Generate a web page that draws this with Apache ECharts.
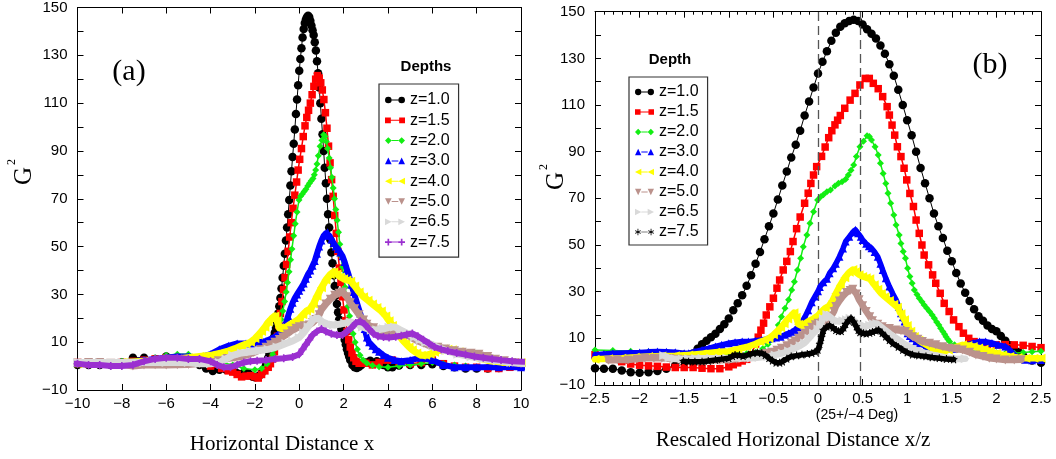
<!DOCTYPE html>
<html><head><meta charset="utf-8">
<script src="https://cdn.jsdelivr.net/npm/echarts@6/dist/echarts.min.js"></script>
<style>html,body{margin:0;padding:0;background:#fff}#c{width:1056px;height:459px}</style>
</head><body><div id="c"></div>
<script>
// ---------- labels / ticks ----------
const depthLabels = ['z=1.0','z=1.5','z=2.0','z=3.0','z=4.0','z=5.0','z=6.5','z=7.5'];
const yLabelValues = [-10,10,30,50,70,90,110,130,150];
const xLabelsA = [-10,-8,-6,-4,-2,0,2,4,6,8,10];
const xLabelsB = [-2.5,-2,-1.5,-1,-0.5,0,0.5,1,1.5,2,2.5];
const degLines = [0, 0.47];

// ---------- data ----------
// z = 1.0 (x/z = x, shared by both panels)
const z10 = [[-11.3,0.3],[-10.5,0.5],[-10,0.5],[-9.5,0.5],[-9,0.5],[-8.5,0.5],[-8,1.5],[-7.5,3.5],[-7,3.5],[-6.5,3],[-6,4],[-5.5,3.5],[-5,2.5],[-4.5,0.5],[-4.2,-1],[-3.9,-2],[-3.6,-1.5],[-3.3,-1.5],[-3,-2],[-2.8,-3],[-2.6,-3.5],[-2.5,-2.8],[-2.4,-3],[-2.3,-3],[-2.2,-3.8],[-2.1,-4.5],[-2,-4.7],[-1.9,-4.5],[-1.8,-4],[-1.7,-3],[-1.6,-1.5],[-1.5,0.5],[-1.45,2],[-1.4,3.5],[-1.35,5.5],[-1.3,7.5],[-1.25,9],[-1.2,10.5],[-1.15,12],[-1.1,14],[-1.05,16],[-1,18.5],[-0.95,22],[-0.9,25],[-0.85,28.5],[-0.8,32.5],[-0.75,37],[-0.7,42],[-0.65,47],[-0.6,52.5],[-0.55,58],[-0.5,63.5],[-0.45,69.5],[-0.4,75.5],[-0.35,81.5],[-0.3,87.5],[-0.25,93],[-0.2,99],[-0.15,105.5],[-0.1,111.5],[-0.05,117.5],[0,123.5],[0.05,128.5],[0.1,133],[0.15,137.5],[0.2,141],[0.25,143.5],[0.3,145],[0.35,146],[0.4,146.5],[0.45,146],[0.5,144.5],[0.55,142.5],[0.6,140.5],[0.65,138.5],[0.7,135.5],[0.75,132],[0.8,127.5],[0.85,122.5],[0.9,116.5],[0.95,110],[1,103.5],[1.05,97],[1.1,90],[1.15,83],[1.2,76.5],[1.25,70],[1.3,63.5],[1.35,58],[1.4,53],[1.45,47.5],[1.5,43],[1.55,38],[1.6,33.5],[1.65,29.5],[1.7,26],[1.75,22.5],[1.8,19.5],[1.85,17.5],[1.9,15.5],[1.95,14],[2,13],[2.05,11],[2.1,9],[2.15,7],[2.2,5.5],[2.25,4],[2.3,2.5],[2.4,0.5],[2.5,-0.5],[2.6,-0.8],[2.7,-0.3],[2.8,0.5],[3,1.5],[3.2,2.2],[3.5,2],[3.8,0.5],[4,-0.5],[4.2,-0.5],[4.5,0.3],[5,0.5],[5.5,0.5],[6,0.8],[6.5,0],[7,-0.5],[7.5,-1],[8,-1],[8.5,-1],[9,-0.8],[9.5,-0.3],[10,0],[10.5,0],[11.3,0.3]];

// panel (a): horizontal distance x
const a15 = [[-11.3,2],[-10.5,1.5],[-10,1.5],[-9.5,1],[-9,1],[-8.5,1],[-8,1.5],[-7.5,2],[-7,2.5],[-6.5,3],[-6,3.5],[-5.5,3.5],[-5,3],[-4.5,1.5],[-4,0],[-3.5,-1],[-3.2,-2],[-3,-2.5],[-2.8,-3.5],[-2.6,-4.5],[-2.4,-4.2],[-2.2,-4],[-2,-4.5],[-1.85,-5],[-1.7,-3.5],[-1.55,-2],[-1.4,-0.5],[-1.3,1],[-1.2,3],[-1.12,6],[-1.05,9],[-0.98,12.5],[-0.92,17],[-0.85,22],[-0.78,27],[-0.71,32],[-0.64,37],[-0.57,42.5],[-0.5,48],[-0.43,54],[-0.36,60],[-0.28,66],[-0.2,71.5],[-0.12,77],[-0.05,82],[0.02,86.5],[0.1,91],[0.18,96],[0.26,100.5],[0.34,104],[0.42,107],[0.5,110],[0.58,113.5],[0.66,117],[0.74,120],[0.82,121.5],[0.9,120.5],[0.97,118.5],[1.04,115.5],[1.11,111.5],[1.18,106],[1.25,99.5],[1.32,92],[1.39,85],[1.46,78],[1.53,71],[1.6,63],[1.67,55.5],[1.74,48],[1.81,41],[1.88,35],[1.95,29],[2.02,23.5],[2.09,19],[2.16,14.5],[2.23,11],[2.3,8],[2.38,5.5],[2.46,3.5],[2.56,2],[2.7,1.2],[2.85,1.5],[3,1.2],[3.3,0.5],[3.6,1.5],[3.9,2.5],[4.2,2.5],[4.5,1.5],[5,1],[5.5,1.5],[6,2.5],[6.5,1],[7,0],[7.5,-0.5],[8,-0.5],[8.5,-1],[9,-1],[9.5,-0.5],[10,0],[11.3,0]];
const a20 = [[-11.3,1],[-10.5,1.5],[-10,1.5],[-9,1.5],[-8,2],[-7,2.5],[-6.5,3.5],[-6,4.5],[-5.5,5],[-5,5],[-4.5,4],[-4,2.5],[-3.5,1.5],[-3,0.5],[-2.5,-1],[-2,-1.5],[-1.7,-1],[-1.45,1],[-1.3,3],[-1.2,5],[-1.12,7],[-1.04,9.5],[-0.96,13],[-0.89,16.5],[-0.82,19.5],[-0.74,23],[-0.66,27],[-0.59,31],[-0.53,35],[-0.46,39.5],[-0.39,44.5],[-0.33,49],[-0.25,54.5],[-0.18,59.5],[-0.1,64.5],[-0.01,69.5],[0.06,71],[0.14,72],[0.22,73],[0.3,74],[0.38,75.3],[0.46,76.5],[0.54,77.5],[0.62,78.5],[0.68,80],[0.74,82],[0.8,84.5],[0.86,88],[0.94,92],[1.02,94.5],[1.1,96.8],[1.16,96],[1.22,94],[1.28,91],[1.35,87],[1.41,83],[1.47,79],[1.53,74.5],[1.59,70],[1.65,65.5],[1.71,61],[1.77,56],[1.83,51],[1.89,46],[1.95,41.5],[2.01,37],[2.07,33],[2.13,29],[2.2,25],[2.27,21],[2.35,17],[2.43,13.5],[2.52,10],[2.62,7],[2.74,4.5],[2.88,2.5],[3.05,1.2],[3.3,0.3],[3.6,-0.3],[4,-0.5],[4.5,0],[5,0.5],[5.5,1],[6,1.5],[6.5,1],[7,0.5],[7.5,0],[8,-0.5],[9,-0.5],[10,0],[11.3,0.5]];
const a30 = [[-11.3,1],[-10.5,1.5],[-10,1.5],[-9,1],[-8,1.5],[-7,2.5],[-6,3.5],[-5.5,4],[-5,4],[-4.5,3.5],[-4,5],[-3.6,7],[-3.2,8.5],[-2.8,9.5],[-2.4,9.5],[-2.1,9.5],[-1.8,10],[-1.5,10.5],[-1.25,11.5],[-1.05,12.5],[-0.9,13.5],[-0.75,15.5],[-0.6,18],[-0.5,21],[-0.4,24],[-0.3,26.5],[-0.2,28.5],[-0.1,30],[0,31.5],[0.1,33],[0.2,34.5],[0.3,36.5],[0.4,38.5],[0.5,40],[0.6,42],[0.7,44],[0.8,47],[0.9,50],[1,52.5],[1.1,54.5],[1.2,55.5],[1.28,56],[1.36,54.5],[1.45,53],[1.55,51.5],[1.65,50],[1.75,49],[1.85,47.5],[1.95,46],[2.05,43.5],[2.15,40.5],[2.25,37.5],[2.35,34],[2.45,31],[2.55,28],[2.65,25],[2.75,22],[2.85,19],[2.95,15.5],[3.05,12],[3.15,10],[3.3,8.5],[3.45,7],[3.6,6],[3.8,4.5],[4,3.5],[4.3,2.5],[4.6,2],[5,2.5],[5.5,3.5],[6,2.5],[6.5,0.5],[7,-0.5],[7.5,-0.5],[8,-0.5],[9,-0.5],[10,-0.5],[11.3,0]];
const a40 = [[-11.3,1],[-10.5,1],[-10,1],[-9,1],[-8,1.5],[-7,2],[-6,2.5],[-5.5,3],[-5,3.5],[-4.5,4],[-4,4.5],[-3.5,5.5],[-3.2,6.3],[-2.9,7.3],[-2.6,8.5],[-2.4,9.2],[-2.2,10],[-2,11.5],[-1.85,13],[-1.7,14.5],[-1.55,16.3],[-1.4,18.3],[-1.25,19.8],[-1.1,21],[-1,19],[-0.9,16],[-0.75,15.5],[-0.6,16.3],[-0.4,17.5],[-0.2,18.5],[0,19.8],[0.16,21.5],[0.32,23],[0.48,23.8],[0.64,26],[0.8,29.2],[1,32.8],[1.2,36],[1.4,38.3],[1.56,39.5],[1.7,38.5],[1.85,37.3],[2,36.5],[2.15,36],[2.32,35.5],[2.5,33.5],[2.7,31],[2.9,29],[3.1,27.5],[3.3,26],[3.5,24.5],[3.7,23],[3.9,21],[4.05,19],[4.2,17],[4.35,15],[4.5,13],[4.65,11],[4.8,9.5],[4.95,8],[5.1,6.8],[5.3,5.5],[5.5,4.5],[5.7,4.5],[5.9,5],[6.1,5.8],[6.3,6.6],[6.5,7.2],[6.7,7],[6.9,6.8],[7.2,6],[7.5,5.2],[7.8,4.4],[8,3.6],[8.3,2.9],[8.6,2.2],[9,1.8],[9.3,1.5],[9.7,1.5],[10,1.5],[11.3,1]];
const a50 = [[-11.3,0.6],[-10.5,0.8],[-10,1.2],[-9.5,1.5],[-9,1.5],[-8.5,1.2],[-8,0.8],[-7.5,0],[-7,0.5],[-6.5,0.6],[-6,0.5],[-5.5,0.6],[-5,0.7],[-4.5,1.1],[-4,1.5],[-3.65,2.2],[-3.25,3.2],[-2.9,3.6],[-2.6,4],[-2.3,4.9],[-2.05,5.7],[-1.75,6.8],[-1.5,7.9],[-1.3,8.9],[-1.1,10],[-0.9,11.1],[-0.75,12.2],[-0.55,13.4],[-0.35,14.8],[-0.15,15.8],[0,16.5],[0.22,16.9],[0.45,17.2],[0.6,18.2],[0.75,19.5],[0.9,21.5],[1,23.6],[1.2,26],[1.4,28],[1.6,29.6],[1.8,30.5],[1.95,31],[2.15,29],[2.3,26.5],[2.5,24],[2.7,21.5],[2.9,19.3],[3.05,17.5],[3.35,16],[3.6,15],[4,14.2],[4.35,13.6],[4.65,13.2],[4.9,12.9],[5.1,11.8],[5.3,10.7],[5.6,9.6],[5.85,8.6],[6.25,7.9],[6.6,7.2],[7,6.4],[7.35,5.8],[7.75,5.4],[8.1,5],[8.5,4],[8.85,2.9],[9.25,2.2],[9.6,1.5],[10,1.1],[10.5,0.7],[11,0.7],[11.4,0.8]];
const a65 = [[-11.3,2],[-10.5,1.5],[-10,1.5],[-9,1.5],[-8,1.5],[-7,1.5],[-6,1.5],[-5,1.5],[-4.5,1],[-4,1],[-3.6,1.5],[-3.3,3],[-3,4.5],[-2.6,5.5],[-2.2,6],[-1.8,6.5],[-1.4,7],[-1,8],[-0.6,9.5],[-0.3,10.5],[0,12],[0.2,14],[0.4,16.5],[0.65,19.5],[0.85,20],[1.05,18.5],[1.3,17.5],[1.55,17.2],[1.8,17.5],[2.05,18],[2.3,18.5],[2.6,17.5],[2.85,16.4],[3.25,15],[3.5,15.2],[3.8,15.6],[4.05,16.2],[4.3,16.4],[4.55,15.2],[4.9,13.6],[5.2,12.2],[5.45,11],[5.7,10],[6,9],[6.2,8],[6.6,6.5],[7.15,5],[7.75,3.9],[8.3,3],[8.95,2.2],[9.55,1.5],[10.15,1.1],[10.7,1.2],[11.3,1.2]];
const a75 = [[-11.3,1.5],[-10.5,1],[-10,1],[-9.5,0.5],[-9,0.5],[-8.5,0],[-8,0],[-7.5,0.5],[-7,2],[-6.5,3],[-6,3.5],[-5.5,3.5],[-5,3],[-4.5,3],[-4,2],[-3.7,0.5],[-3.4,-0.5],[-3.1,-0.5],[-2.8,0.5],[-2.5,1.5],[-2.2,2],[-1.9,2.2],[-1.5,2.5],[-1.1,3],[-0.7,3.3],[-0.3,3.8],[0,5],[0.15,7],[0.3,9],[0.45,11],[0.6,13],[0.8,14.5],[1,15.5],[1.2,14.5],[1.45,13.5],[1.7,13],[1.95,13],[2.15,14.5],[2.35,16],[2.55,18],[2.75,18.8],[2.95,17.5],[3.15,15.5],[3.35,13.5],[3.55,12.5],[3.8,12.2],[4.05,12],[4.35,12.3],[4.6,12.7],[4.85,13.2],[5.1,13.6],[5.35,12.5],[5.6,11],[5.85,9.5],[6.1,8],[6.4,7],[6.7,6.3],[7.1,5.5],[7.5,4.8],[7.9,4],[8.3,3.5],[8.7,3],[9.1,2.5],[9.6,2],[10.1,1.8],[10.6,1.6],[11.3,1.2]];

// panel (b): rescaled distance x/z
const b15 = [[-2.5,3],[-2.4,2],[-2.3,1],[-2.2,0],[-2.1,-1],[-2,-1.5],[-1.9,-1.8],[-1.8,-2],[-1.7,-2.3],[-1.6,-2.5],[-1.5,-2.5],[-1.4,-2.5],[-1.3,-2.8],[-1.2,-3],[-1.1,-3],[-1,-2.2],[-0.95,-1.3],[-0.9,-0.5],[-0.85,0.3],[-0.8,1],[-0.75,3],[-0.7,7.5],[-0.67,10.5],[-0.64,13.5],[-0.61,16.5],[-0.58,20],[-0.54,23.5],[-0.5,27.2],[-0.46,31.5],[-0.43,35],[-0.39,39.3],[-0.35,43],[-0.31,47.2],[-0.28,51.5],[-0.24,57],[-0.2,62],[-0.15,67.9],[-0.11,72.2],[-0.08,76.4],[-0.05,80],[-0.015,83.6],[0.04,88],[0.08,92],[0.12,96],[0.155,99],[0.19,101.5],[0.22,103.5],[0.25,105.5],[0.3,108.6],[0.36,112.1],[0.415,115],[0.47,118.6],[0.53,121.4],[0.575,121.4],[0.62,119.3],[0.675,117],[0.725,113.6],[0.775,109.3],[0.8,105.7],[0.83,101.4],[0.86,97.1],[0.89,92.1],[0.93,87.9],[0.965,82.9],[0.995,77.9],[1.03,72.1],[1.07,66.5],[1.1,60.7],[1.135,55],[1.165,50],[1.19,45.7],[1.24,41.5],[1.285,37.2],[1.32,33.6],[1.37,29.3],[1.415,25],[1.47,21.5],[1.52,17.9],[1.58,15],[1.63,12.2],[1.69,10],[1.75,8.6],[1.81,7.9],[1.9,7.5],[2,7.2],[2.1,7.3],[2.2,7.2],[2.3,7],[2.4,6.5],[2.5,6]];
const b20 = [[-2.5,5],[-2.3,4.8],[-2.1,4.5],[-1.9,4.2],[-1.7,4],[-1.5,3.5],[-1.3,4],[-1.1,3.5],[-0.9,3],[-0.8,3.5],[-0.7,4],[-0.62,5.5],[-0.56,7.5],[-0.52,9.5],[-0.48,12.2],[-0.445,15.7],[-0.41,19.3],[-0.37,22.9],[-0.33,26.5],[-0.295,30.7],[-0.265,34.3],[-0.23,39.3],[-0.195,44.3],[-0.165,49.3],[-0.125,54.3],[-0.09,59.3],[-0.05,64.3],[-0.005,69.3],[0.03,70.7],[0.06,71.5],[0.1,72.8],[0.14,73.6],[0.19,75.3],[0.23,76.5],[0.27,77.1],[0.31,78.2],[0.34,80],[0.37,82],[0.4,84.3],[0.43,87.9],[0.47,92.1],[0.51,94.5],[0.55,96.8],[0.575,96.5],[0.6,95],[0.64,92.1],[0.675,88.6],[0.7,85],[0.73,80.7],[0.76,76.4],[0.785,72.2],[0.815,67.9],[0.85,62.9],[0.875,58.6],[0.91,54.3],[0.93,50.7],[0.955,47.2],[0.98,44.3],[1.005,40],[1.03,36.5],[1.055,33.6],[1.08,30.7],[1.11,28.8],[1.135,27.2],[1.165,25.7],[1.19,24.3],[1.22,22.9],[1.25,21.5],[1.28,20],[1.305,18.6],[1.33,17],[1.355,15.7],[1.375,14.3],[1.4,12.9],[1.42,11.8],[1.435,10.7],[1.455,9.6],[1.475,8.6],[1.53,7.2],[1.6,5.8],[1.7,4.8],[1.8,4.3],[1.9,4],[2,3.8],[2.1,3.6],[2.2,3.6],[2.3,3.9],[2.4,4.2],[2.5,4.5]];
const b30 = [[-2.5,3],[-2.4,3.3],[-2.3,3.6],[-2.1,3.8],[-2,3.9],[-1.9,4.2],[-1.8,4.4],[-1.7,4.2],[-1.6,4],[-1.5,3.6],[-1.45,3.6],[-1.38,4.3],[-1.3,5],[-1.22,5.8],[-1.15,6.5],[-1.08,7.2],[-1,7.9],[-0.93,8.3],[-0.85,8.6],[-0.78,8.6],[-0.7,9],[-0.63,9.3],[-0.57,9.7],[-0.52,10],[-0.47,10.4],[-0.42,10.7],[-0.37,11.5],[-0.33,12.2],[-0.29,12.8],[-0.26,13.6],[-0.22,14.8],[-0.18,17],[-0.145,19.3],[-0.11,22],[-0.07,25.5],[-0.035,27.9],[0,30.2],[0.02,32],[0.06,34],[0.1,35.5],[0.13,37.9],[0.17,40],[0.2,42],[0.24,45],[0.28,48.5],[0.31,51.5],[0.35,53.5],[0.39,55.5],[0.42,56.5],[0.45,55],[0.48,53.5],[0.5,52.2],[0.54,50.5],[0.57,49.5],[0.6,48.6],[0.635,47],[0.67,45],[0.7,42],[0.725,39.3],[0.76,35.8],[0.8,32.2],[0.84,29],[0.875,26.5],[0.905,23.5],[0.93,20.7],[0.95,19],[0.97,17.2],[0.99,14.5],[1.005,12.2],[1.03,11],[1.06,10],[1.1,8.8],[1.14,7.9],[1.21,6.5],[1.29,6.3],[1.37,5.8],[1.45,5.5],[1.53,5.5],[1.6,6.2],[1.67,7.2],[1.74,8],[1.81,8.6],[1.88,8.6],[1.95,8],[2.02,7.2],[2.1,6.5],[2.15,5],[2.2,3],[2.25,1.5],[2.32,0.8],[2.4,0.6],[2.5,0.7]];
const b40 = [[-2.5,1],[-2.35,1.3],[-2.2,1.5],[-2.05,1.9],[-1.9,2.2],[-1.75,2.4],[-1.6,2.5],[-1.45,2.9],[-1.3,3.4],[-1.15,4],[-1,4.5],[-0.9,5.4],[-0.8,6.3],[-0.72,7.3],[-0.65,8.5],[-0.6,9.2],[-0.55,10],[-0.5,11.5],[-0.46,13],[-0.42,14.5],[-0.38,16.3],[-0.34,18.3],[-0.3,19.8],[-0.27,21],[-0.245,19],[-0.22,16],[-0.19,15.5],[-0.15,16.3],[-0.1,17.5],[-0.05,18.5],[0,19.8],[0.04,21.5],[0.08,23],[0.12,23.8],[0.16,26],[0.2,29.2],[0.25,32.8],[0.3,36],[0.35,38.3],[0.39,39.5],[0.42,38.5],[0.46,37.3],[0.5,36.5],[0.54,36],[0.58,35.5],[0.63,33],[0.67,31],[0.71,29.2],[0.75,27.8],[0.8,26.2],[0.85,24.6],[0.89,23.3],[0.93,20.5],[0.97,18],[1,15.5],[1.04,13],[1.08,10.8],[1.13,9.2],[1.18,7.9],[1.23,6.8],[1.28,5.7],[1.34,4.9],[1.4,4.3],[1.46,5],[1.52,5.8],[1.57,6.6],[1.62,7.2],[1.68,6.9],[1.74,6.5],[1.8,5.9],[1.86,5.3],[1.93,4.4],[2,3.6],[2.07,2.9],[2.15,2.2],[2.24,1.8],[2.33,1.5],[2.42,1.5],[2.5,1.5]];
const b50 = [[-2.35,0.6],[-2.25,0.7],[-2.13,0.7],[-2.03,1.1],[-1.94,1.5],[-1.84,1.5],[-1.75,1.5],[-1.66,1.2],[-1.57,1],[-1.47,0.8],[-1.38,0.7],[-1.28,0.6],[-1.19,0.5],[-1.1,0.6],[-1,0.7],[-0.91,1.1],[-0.82,1.5],[-0.73,2.2],[-0.65,3.2],[-0.58,3.6],[-0.52,4],[-0.46,4.9],[-0.41,5.7],[-0.35,6.8],[-0.3,7.9],[-0.26,8.9],[-0.22,10],[-0.18,11.1],[-0.15,12.2],[-0.11,13.4],[-0.07,14.8],[-0.03,15.8],[0,16.5],[0.045,16.9],[0.09,17.2],[0.12,18.2],[0.15,19.5],[0.18,21.5],[0.2,23.6],[0.24,26],[0.28,28],[0.32,29.6],[0.36,30.5],[0.39,31],[0.43,29],[0.46,26.5],[0.5,24],[0.54,21.5],[0.58,19.3],[0.61,17.5],[0.67,16],[0.72,15],[0.8,14.2],[0.87,13.6],[0.93,13.2],[0.98,12.9],[1.02,11.8],[1.06,10.7],[1.12,9.6],[1.17,8.6],[1.25,7.9],[1.32,7.2],[1.4,6.4],[1.47,5.8],[1.55,5.4],[1.62,5],[1.7,4],[1.77,2.9],[1.85,2.2],[1.92,1.5],[2,1.1],[2.1,0.7],[2.2,0.7],[2.28,0.8]];
const b65 = [[-1.73,2.6],[-1.67,1.6],[-1.6,1.2],[-1.52,1.1],[-1.45,1.2],[-1.37,1.4],[-1.3,1.5],[-1.2,1.5],[-1.1,1.5],[-1.02,1.5],[-0.93,1.5],[-0.84,1.5],[-0.75,1.5],[-0.66,1.8],[-0.56,2.2],[-0.48,2.9],[-0.4,3.6],[-0.33,4.6],[-0.26,5.7],[-0.2,6.8],[-0.15,8],[-0.1,10],[-0.05,12.2],[0,14],[0.03,16],[0.06,18.5],[0.1,20.2],[0.14,19],[0.18,17.8],[0.22,17.3],[0.28,17.5],[0.32,18],[0.36,18.6],[0.4,17.6],[0.44,16.4],[0.5,15],[0.54,15.2],[0.58,15.6],[0.62,16.2],[0.66,16.4],[0.7,15.2],[0.75,13.6],[0.8,12.2],[0.84,11],[0.88,10],[0.92,9],[0.95,8],[1.02,6.5],[1.1,5],[1.19,3.9],[1.28,3],[1.38,2.2],[1.47,1.5],[1.56,1.1],[1.65,1.2]];
const b75 = [[-1.51,0.2],[-1.45,0],[-1.38,0],[-1.3,0],[-1.23,0.3],[-1.15,0.7],[-1.08,1.1],[-1,1.5],[-0.96,2.3],[-0.93,2.9],[-0.88,2.7],[-0.84,2.3],[-0.78,3],[-0.73,3.6],[-0.68,3.8],[-0.63,3.6],[-0.59,2.8],[-0.55,1.5],[-0.51,0.4],[-0.47,-0.5],[-0.43,-0.5],[-0.4,0],[-0.35,1.2],[-0.3,2.2],[-0.24,2.6],[-0.18,3],[-0.12,3.3],[-0.07,3.6],[-0.03,4.2],[0,5],[0.02,7.5],[0.04,10.5],[0.06,13.5],[0.1,15],[0.13,15.5],[0.17,14.5],[0.2,13.5],[0.23,13],[0.26,13],[0.29,14.5],[0.31,16],[0.34,17.5],[0.37,18.6],[0.4,17],[0.43,15],[0.45,13.5],[0.47,12.5],[0.51,12.2],[0.54,12],[0.58,12.3],[0.61,12.7],[0.65,13.2],[0.68,13.6],[0.72,12.2],[0.76,10.7],[0.8,9.2],[0.84,7.8],[0.9,6.3],[0.95,5],[1,3.9],[1.06,3],[1.13,2.6],[1.21,2.2],[1.28,1.8],[1.36,1.5],[1.44,1.1],[1.52,0.9]];

// ---------- styles ----------
const P = {
  circle: 'circle', rect: 'rect', diamond: 'diamond', tri: 'triangle',
  left: 'path://M0,5L10,0L10,10Z',
  down: 'path://M0,0L10,0L5,10Z',
  right: 'path://M0,0L10,5L0,10Z',
  plus: 'path://M4,0H6V4H10V6H6V10H4V6H0V4H4Z',
  star: 'path://M4.4,0H5.6L5.5,3.6L8.9,2.3L9.3,3.4L5.9,4.6L8.1,7.5L7.1,8.2L5,5.2L2.9,8.2L1.9,7.5L4.1,4.6L0.7,3.4L1.1,2.3L4.5,3.6Z'
};
const L = {
  circle: 'path://M0,4A4,4,0,1,0,8,4A4,4,0,1,0,0,4ZM8,3.4H16V4.6H8ZM16,4A4,4,0,1,0,24,4A4,4,0,1,0,16,4Z',
  rect: 'path://M0,0.5H7V7.5H0ZM7,3.4H17V4.6H7ZM17,0.5H24V7.5H17Z',
  diamond: 'path://M0,4L4,0L8,4L4,8ZM8,3.4H16V4.6H8ZM16,4L20,0L24,4L20,8Z',
  tri: 'path://M0,8L4,0L8,8ZM8,3.4H16V4.6H8ZM16,8L20,0L24,8Z',
  left: 'path://M0,4L8,0L8,8ZM8,3.4H16V4.6H8ZM16,4L24,0L24,8Z',
  down: 'path://M0,0L8,0L4,8ZM8,3.4H16V4.6H8ZM16,0L24,0L20,8Z',
  right: 'path://M0,0L8,4L0,8ZM8,3.4H16V4.6H8ZM16,0L24,4L16,8Z',
  plus: 'path://M3,0H5V3H8V5H5V8H3V5H0V3H3ZM8,3.4H16V4.6H8ZM19,0H21V3H24V5H21V8H19V5H16V3H19Z',
  star: 'path://M3.5,0H4.5V3L7.2,2L7.6,2.9L5,4L7.6,5.1L7.2,6L4.5,5V8H3.5V5L0.8,6L0.4,5.1L3,4L0.4,2.9L0.8,2L3.5,3ZM8,3.6H16V4.4H8ZM19.5,0H20.5V3L23.2,2L23.6,2.9L21,4L23.6,5.1L23.2,6L20.5,5V8H19.5V5L16.8,6L16.4,5.1L19,4L16.4,2.9L16.8,2L19.5,3Z'
};
const colA = ['#000000','#ff0000','#12ee12','#0000ff','#ffff00','#bb928c','#d9d9d9','#9b30d0'];
const colB = ['#000000','#ff0000','#12ee12','#0000ff','#ffff00','#bb928c','#d9d9d9','#000000'];
const symA = ['circle','rect','diamond','tri','left','down','right','plus'];
const symB = ['circle','rect','diamond','tri','left','down','right','star'];
const sizeA = [8.5,7.5,7,8,9,9,9,8];
const sizeB = [8.5,7.5,7,8,9,9,9,8];
const lwA = [1,1.5,1.5,6,7,7,7,6];
const lwB = [1,1.5,1.5,5.5,6.5,6.5,6.5,5.5];
const dataA = [z10,a15,a20,a30,a40,a50,a65,a75];
const dataB = [z10,b15,b20,b30,b40,b50,b65,b75];

function mk(prefix, i, data, xi, col, sym, size, lw) {
  return {
    name: prefix + depthLabels[i], type: 'line', xAxisIndex: xi, yAxisIndex: xi,
    data: data, symbol: P[sym], symbolSize: size, showSymbol: true, showAllSymbol: true, clip: true,
    itemStyle: { color: col }, lineStyle: { color: col, width: lw, join: 'round', cap: 'round' },
    emphasis: { disabled: true }, animation: false, z: 2 + i
  };
}
const series = [];
for (let i = 0; i < 8; i++) series.push(mk('a:', i, dataA[i], 0, colA[i], symA[i], sizeA[i], lwA[i]));
for (let i = 0; i < 8; i++) series.push(mk('b:', i, dataB[i], 2, colB[i], symB[i], sizeB[i], lwB[i]));
series[8].markLine = {
  silent: true, symbol: 'none', animation: false, label: { show: false },
  lineStyle: { type: [9, 5], color: '#555', width: 1.3 },
  data: degLines.map(v => ({ xAxis: v }))
};

const minus = v => (v < 0 ? '\u2212' + Math.abs(v) : String(v));
const labelFont = { fontFamily: 'Liberation Sans, Arial, sans-serif', fontSize: 15, color: '#000' };
const axLine = { show: true, onZero: false, lineStyle: { color: '#000', width: 1 } };

function xAx(grid, pos, min, max, interval, labels, minorSplit, showLabel) {
  return {
    type: 'value', gridIndex: grid, position: pos, min, max, interval,
    axisLine: axLine, splitLine: { show: false },
    axisTick: { show: true, inside: true, length: 6, lineStyle: { color: '#000' } },
    minorTick: minorSplit ? { show: true, splitNumber: minorSplit, length: 3, lineStyle: { color: '#000' } } : { show: false },
    axisLabel: { show: showLabel, margin: 6, ...labelFont, formatter: v => (labels.some(l => Math.abs(l - v) < 1e-9) ? minus(+v.toFixed(2)) : '') }
  };
}
function yAx(grid, pos, showLabel) {
  return {
    type: 'value', gridIndex: grid, position: pos, min: -10, max: 150, interval: 10,
    axisLine: axLine, splitLine: { show: false },
    axisTick: { show: true, inside: true, length: 6, lineStyle: { color: '#000' } },
    axisLabel: { show: showLabel, margin: 10, ...labelFont, formatter: v => (yLabelValues.includes(v) ? minus(v) : '') }
  };
}

function legendFor(prefix, syms, left, top, padding, gap, iw) {
  return {
    orient: 'vertical', left, top, padding, itemGap: gap, itemWidth: iw, itemHeight: 8,
    borderColor: '#333', borderWidth: 1.2, selectedMode: false, backgroundColor: '#fff',
    textStyle: { fontFamily: 'Liberation Sans, Arial, sans-serif', fontSize: 16, lineHeight: 16, color: '#000' },
    formatter: n => n.slice(2),
    data: depthLabels.map((d, i) => ({ name: prefix + d, icon: L[syms[i]] }))
  };
}

const serif = '"Liberation Serif", "Times New Roman", serif';
const sans = '"Liberation Sans", Arial, sans-serif';
function txt(x, y, text, font, rot) {
  return { type: 'text', x, y, rotation: rot || 0, z: 100, silent: true,
    style: { text, font, fill: '#000', align: 'center', verticalAlign: 'middle', textAlign: 'center', textVerticalAlign: 'middle' } };
}

const option = {
  animation: false,
  backgroundColor: '#fff',
  grid: [
    { left: 77.5, top: 7.3, width: 443.5, height: 382.7 },
    { left: 595, top: 11.7, width: 446, height: 373.3 }
  ],
  xAxis: [
    xAx(0, 'bottom', -10, 10, 2, xLabelsA, 0, true),
    xAx(0, 'top', -10, 10, 2, xLabelsA, 0, false),
    xAx(1, 'bottom', -2.5, 2.5, 0.5, xLabelsB, 5, true),
    xAx(1, 'top', -2.5, 2.5, 0.5, xLabelsB, 5, false)
  ],
  yAxis: [ yAx(0, 'left', true), yAx(0, 'right', false), yAx(1, 'left', true), yAx(1, 'right', false) ],
  legend: [
    legendFor('a:', symA, 379, 84, [8, 9, 7, 6], 4.3, 20),
    legendFor('b:', symB, 629, 77, [7, 9, 5, 6], 4, 19)
  ],
  graphic: [
    txt(129, 72, '(a)', '30px ' + serif),
    txt(990, 65, '(b)', '30px ' + serif),
    txt(426, 67, 'Depths', 'bold 15px ' + sans),
    txt(670, 60, 'Depth', 'bold 15px ' + sans),
    txt(282, 444, 'Horizontal Distance x', '21px ' + serif),
    txt(793, 440, 'Rescaled Horizonal Distance x/z', '21px ' + serif),
    txt(857, 415, '(25+/\u22124 Deg)', '14px ' + sans),
    txt(24, 176, 'G', '25px ' + serif, Math.PI / 2),
    txt(12, 162, '2', '12px ' + serif, Math.PI / 2),
    txt(556, 181, 'G', '25px ' + serif, Math.PI / 2),
    txt(544, 167, '2', '12px ' + serif, Math.PI / 2)
  ],
  series
};
const chart = echarts.init(document.getElementById('c'), null, { renderer: 'canvas' });
chart.setOption(option);
</script>
</body></html>
